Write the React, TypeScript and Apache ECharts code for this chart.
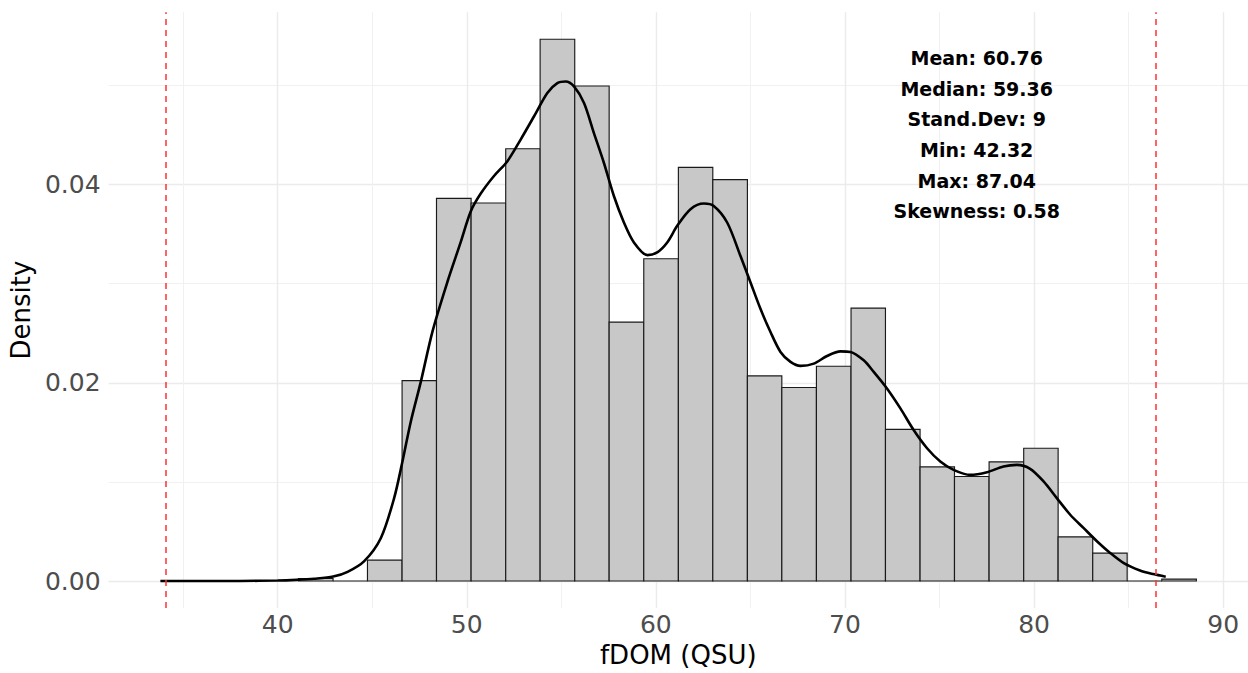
import React, { useEffect, useRef } from "react";
import * as echarts from "echarts";

// Histogram bins (fDOM, QSU) and their densities
const binEdges = [
  41.1, 42.93, 44.75, 46.58, 48.4, 50.23, 52.06, 53.88, 55.71, 57.53, 59.36,
  61.19, 63.01, 64.84, 66.66, 68.49, 70.32, 72.14, 73.97, 75.79, 77.62, 79.45,
  81.27, 83.1, 84.92, 86.75, 88.58,
];
const binDensity = [
  0.00026, 0, 0.00211, 0.02023, 0.03862, 0.03815, 0.04362, 0.05467, 0.04995,
  0.02613, 0.03252, 0.04174, 0.0405, 0.0207, 0.01953, 0.02167, 0.02754, 0.01531,
  0.01152, 0.01055, 0.01202, 0.0134, 0.00445, 0.00281, 0, 0.0002,
];

// Kernel density curve
const densityX = [
  33.8, 36, 38, 40, 41.0, 41.93, 42.94, 43.7, 44.58, 45.46, 46.16, 46.6, 47.04,
  47.57, 48.19, 48.98, 49.68, 50.21, 50.74, 51.44, 52.15, 52.85, 53.56, 54.26,
  54.79, 55.23, 55.67, 56.2, 56.72, 57.25, 57.78, 58.31, 58.84, 59.55, 60.07,
  60.6, 61.13, 61.83, 62.54, 63.06, 63.77, 64.47, 65.0, 65.53, 66.06, 66.59,
  67.12, 67.65, 68.35, 69.05, 69.76, 70.29, 70.99, 71.52, 72.22, 72.93, 73.63,
  74.34, 75.04, 75.74, 76.62, 77.51, 78.38, 79.09, 79.79, 80.5, 81.2, 81.91,
  82.61, 83.32, 84.02, 84.72, 85.6, 86.3, 86.96,
];
const densityY = [
  0, 0, 0.00001, 0.00005, 0.00012, 0.00023, 0.00045, 0.00093, 0.00201, 0.00435,
  0.00837, 0.01206, 0.01608, 0.0201, 0.0252, 0.0302, 0.0342, 0.0373, 0.0391,
  0.04087, 0.04237, 0.04455, 0.0469, 0.04925, 0.05025, 0.05041, 0.04991,
  0.04824, 0.04523, 0.04221, 0.03885, 0.03618, 0.03417, 0.03289, 0.03317,
  0.03417, 0.03584, 0.03752, 0.03809, 0.03785, 0.03618, 0.03282, 0.03015,
  0.02747, 0.02513, 0.02312, 0.02211, 0.02171, 0.02194, 0.02271, 0.02318,
  0.02312, 0.02227, 0.0211, 0.01943, 0.01742, 0.01524, 0.0134, 0.01206, 0.01122,
  0.01071, 0.01098, 0.01156, 0.01172, 0.01132, 0.01005, 0.00837, 0.00669,
  0.00536, 0.00402, 0.00284, 0.00184, 0.00107, 0.0007, 0.00043,
];

// Dashed reference lines
const vlineX = [34.06, 86.41];

// Summary statistics
const statsLabels = ["Mean", "Median", "Stand.Dev", "Min", "Max", "Skewness"];
const statsValues = ["60.76", "59.36", "9", "42.32", "87.04", "0.58"];

const FONT = "DejaVu Sans";

export default function App() {
  const ref = useRef<HTMLDivElement>(null);

  useEffect(() => {
    document.body.style.margin = "0";
    const chart = echarts.init(ref.current!, null, { renderer: "svg" });

    const bins = binDensity.map((d, i) => [binEdges[i], binEdges[i + 1], d]);
    const curve = densityX.map((x, i) => [x, densityY[i]]);

    const option: any = {
      animation: false,
      backgroundColor: "#ffffff",
      grid: { left: 107.5, top: 12.2, right: 0, bottom: 673 - 610.5 },
      xAxis: {
        type: "value",
        min: 31.06,
        max: 91.31,
        splitNumber: 6,
        minInterval: 10,
        maxInterval: 10,
        axisLine: { show: false },
        axisTick: { show: false },
        axisLabel: {
          showMinLabel: false,
          showMaxLabel: false,
          margin: 4,
          color: "#4D4D4D",
          fontSize: 25,
          fontFamily: FONT,
        },
        splitLine: {
          show: true,
          showMinLine: false,
          showMaxLine: false,
          lineStyle: { color: "#EBEBEB", width: 1.4 },
        },
        minorTick: { show: false, splitNumber: 2 },
        minorSplitLine: { show: true, lineStyle: { color: "#F1F1F1", width: 1 } },
        name: "fDOM (QSU)",
        nameLocation: "middle",
        nameGap: 33,
        nameTextStyle: { color: "#000000", fontSize: 26, fontFamily: FONT },
      },
      yAxis: {
        type: "value",
        min: -0.00273,
        max: 0.0574,
        splitNumber: 3,
        minInterval: 0.02,
        maxInterval: 0.02,
        axisLine: { show: false },
        axisTick: { show: false },
        axisLabel: {
          showMinLabel: false,
          showMaxLabel: false,
          margin: 8,
          color: "#4D4D4D",
          fontSize: 25,
          fontFamily: FONT,
          formatter: (v: number) => Math.abs(v).toFixed(2),
        },
        splitLine: {
          show: true,
          showMinLine: false,
          showMaxLine: false,
          lineStyle: { color: "#EBEBEB", width: 1.4 },
        },
        minorTick: { show: false, splitNumber: 2 },
        minorSplitLine: { show: true, lineStyle: { color: "#F1F1F1", width: 1 } },
        name: "Density",
        nameLocation: "middle",
        nameGap: 71,
        nameRotate: 90,
        nameTextStyle: { color: "#000000", fontSize: 26, fontFamily: FONT },
      },
      series: [
        {
          type: "custom",
          data: bins,
          encode: { x: [0, 1], y: 2 },
          z: 2,
          renderItem: (params: any, api: any) => {
            const p0 = api.coord([api.value(0), api.value(2)]);
            const p1 = api.coord([api.value(1), 0]);
            return {
              type: "rect",
              shape: {
                x: p0[0],
                y: p0[1],
                width: p1[0] - p0[0],
                height: p1[1] - p0[1],
              },
              style: { fill: "#C8C8C8", stroke: "#1A1A1A", lineWidth: 1.15 },
            };
          },
        },
        {
          type: "line",
          data: curve,
          smooth: 0.3,
          symbol: "none",
          z: 3,
          lineStyle: { color: "#000000", width: 2.6 },
          markLine: {
            silent: true,
            symbol: ["none", "none"],
            label: { show: false },
            lineStyle: { color: "#FF3030", width: 1.5, type: [6, 5] },
            data: vlineX.map((v) => ({ xAxis: v })),
          },
        },
      ],
      graphic: statsLabels.map((lab, i) => ({
        type: "text",
        x: 976.7,
        y: 57.8 + i * 30.7,
        z: 10,
        style: {
          text: `${lab}: ${statsValues[i]}`,
          fill: "#000000",
          fontSize: 19,
          fontWeight: "bold",
          fontFamily: FONT,
          align: "center",
          verticalAlign: "middle",
        },
      })),
    };

    chart.setOption(option);
    return () => chart.dispose();
  }, []);

  return <div ref={ref} style={{ width: 1248, height: 673 }} />;
}
